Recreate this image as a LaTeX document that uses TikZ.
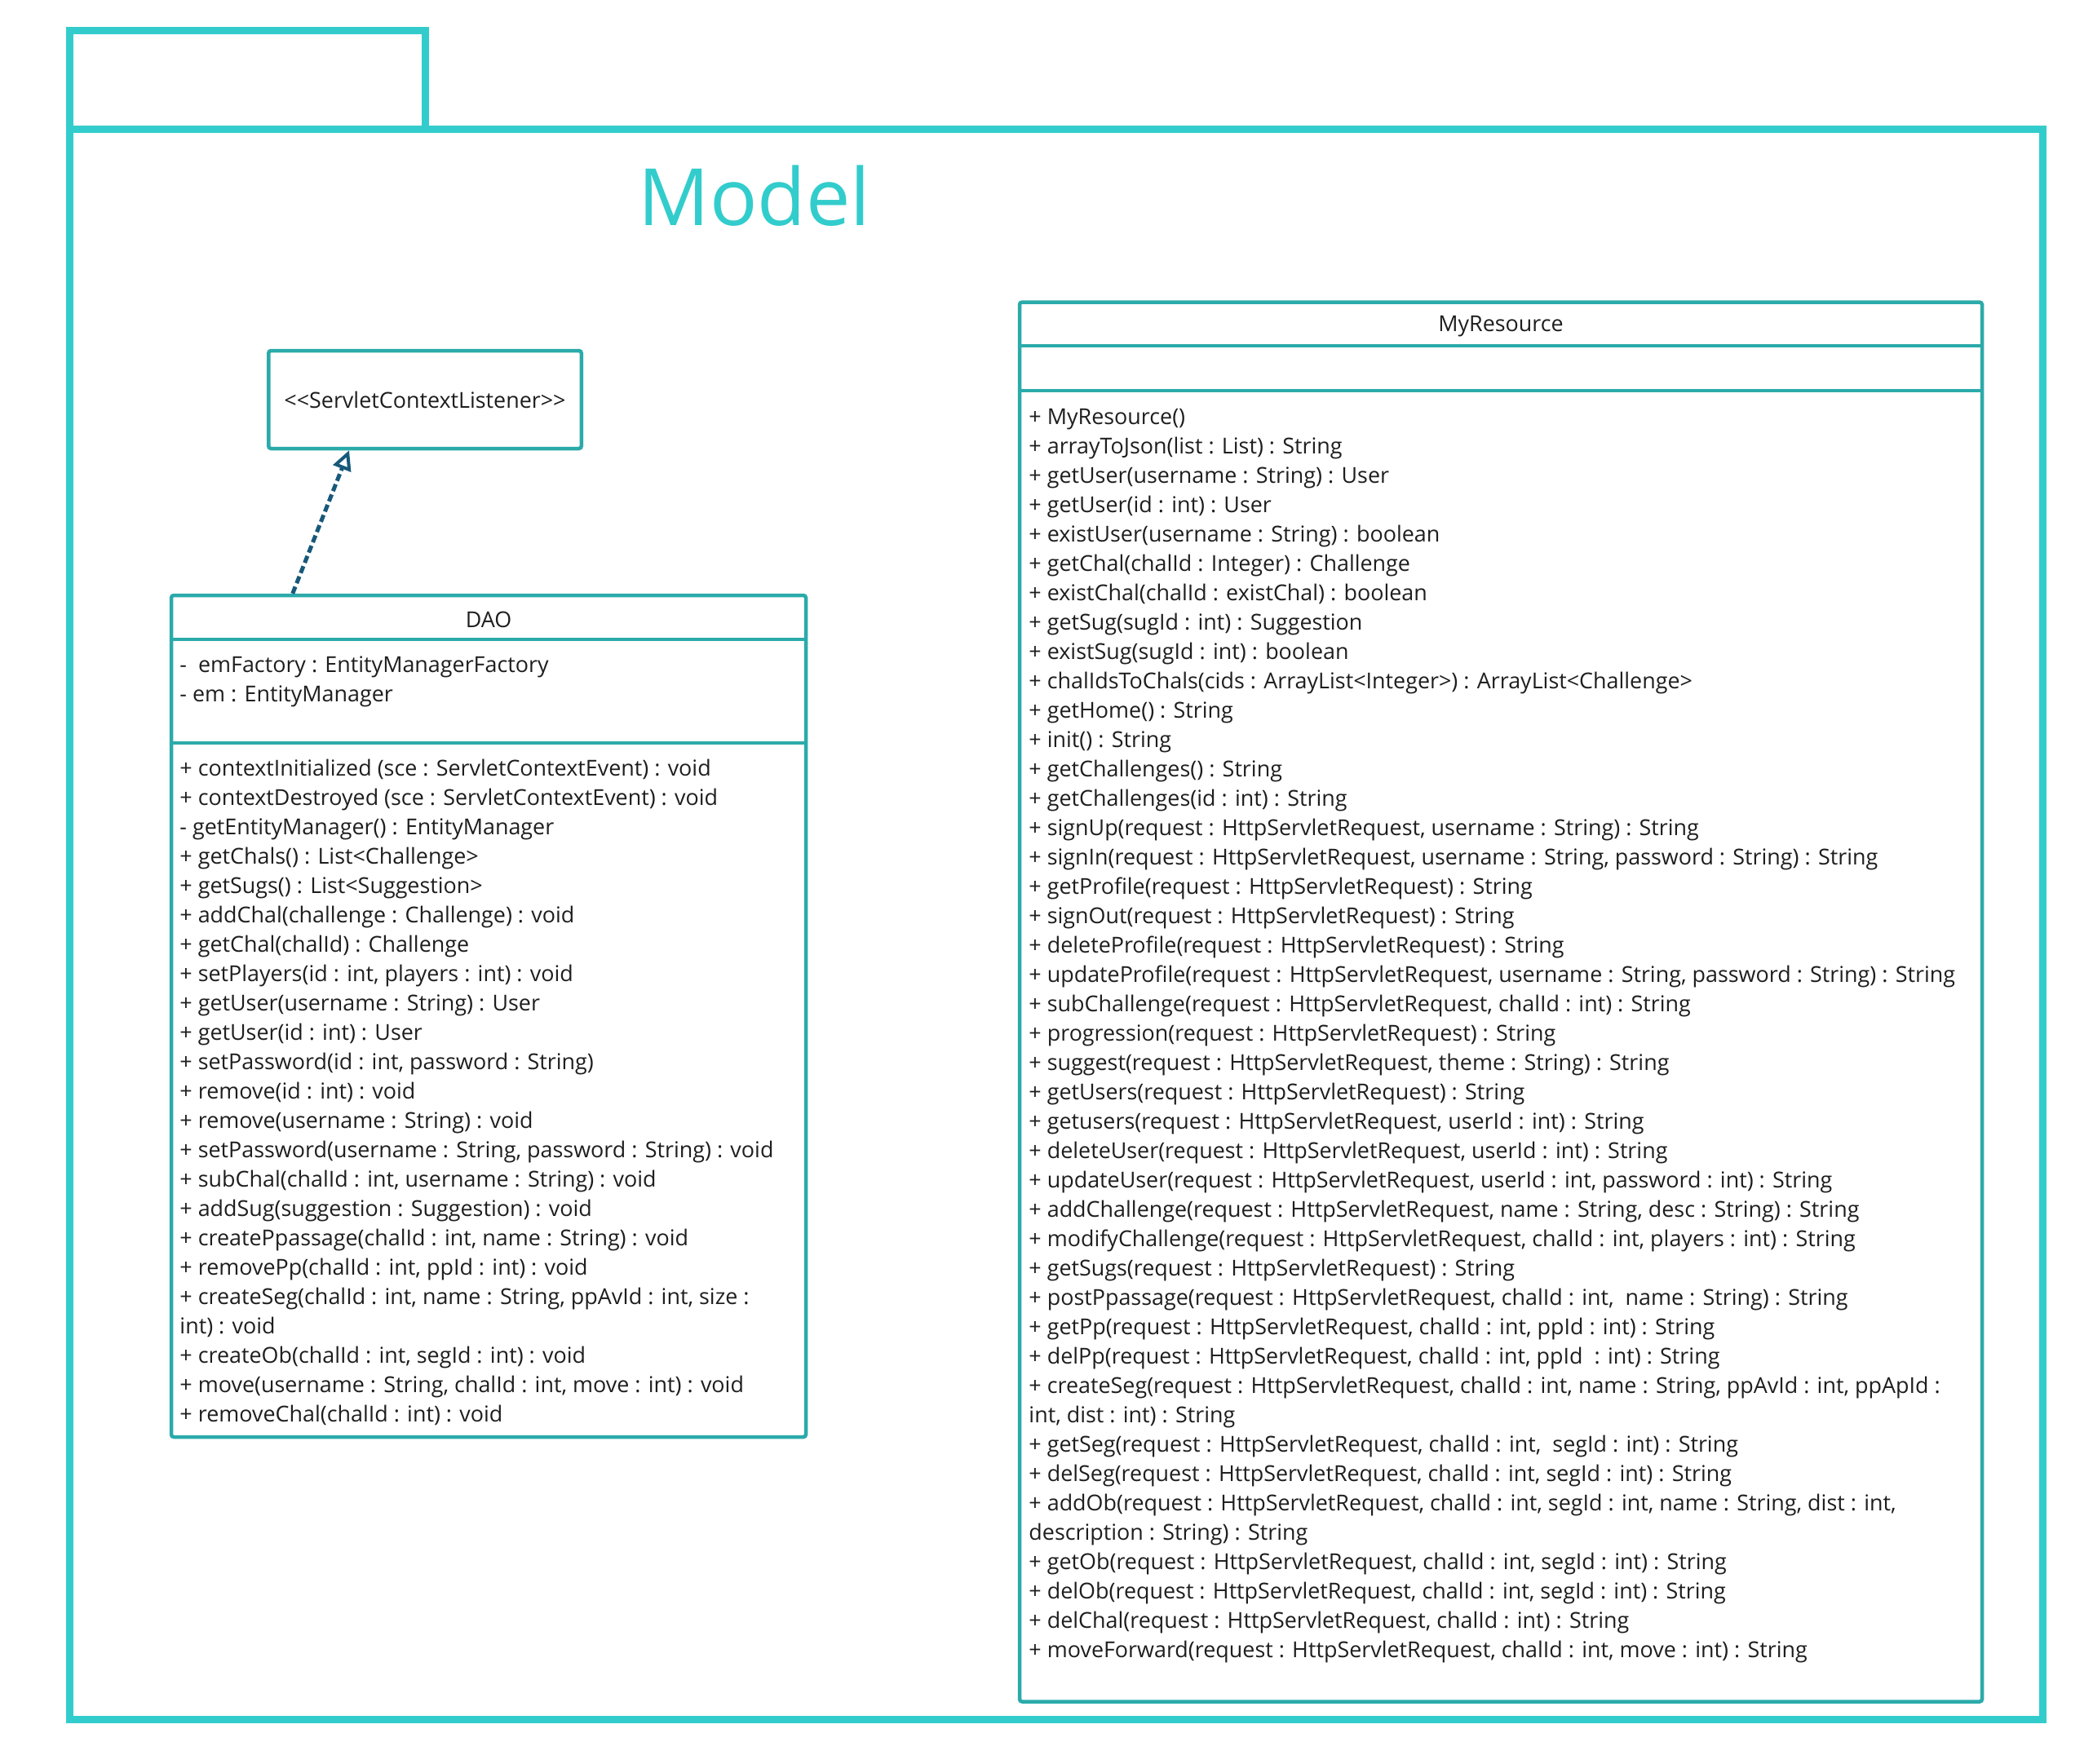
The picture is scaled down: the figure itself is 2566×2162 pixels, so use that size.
\documentclass[tikz,border=0pt]{standalone}
\usepackage{fontspec}
\setmainfont{Open Sans}
\usetikzlibrary{arrows.meta,calc}

\definecolor{pkgteal}{HTML}{33CCCC}
\definecolor{boxteal}{HTML}{2BAAAA}
\definecolor{linkblue}{HTML}{17597A}
\definecolor{textgray}{HTML}{1E1E1E}

\newcommand{\umlfont}{\fontsize{7.65pt}{3.6mm}\selectfont}
\newcommand{\pkgfont}{\fontsize{27.6pt}{32pt}\selectfont}

\begin{document}
\begin{tikzpicture}[
    x=0.1mm, y=-0.1mm,
    % Styles
    pkgline/.style={% For the package frame and its tab
        rectangle,
        draw=pkgteal,
        line width=0.9mm,
        inner sep=0pt,
        },
    pkgtitle/.style={% For the package name
        text=pkgteal,
        font=\pkgfont,
        inner sep=0pt,
        },
    classbox/.style={% For the class boxes
        rectangle,
        rounded corners=0.3mm,
        draw=boxteal,
        line width=0.45mm,
        inner sep=0pt,
        text=textgray,
        font=\umlfont,
        },
    classline/.style={% For the lines between the compartments
        draw=boxteal,
        line width=0.45mm,
        },
    classname/.style={% For the class names
        text=textgray,
        font=\umlfont,
        inner sep=0pt,
        },
    members/.style={% For attributes and operations
        anchor=north west,
        align=left,
        inner sep=0pt,
        text=textgray,
        font=\umlfont,
        },
    realize/.style={% Dashed arrow with open triangle
        draw=linkblue,
        line width=0.5mm,
        dash pattern=on 0.9mm off 0.45mm,
        -{Triangle[open, length=2.4mm, width=2.3mm, line width=0.4mm]},
        },
    ]
    \useasboundingbox (0,0) rectangle (2566,2162);

    % Draw the package:
    \node [pkgline, minimum width=43.6mm, minimum height=12.1mm] (pkgtab) at (303,98) {};
    \node [pkgline, minimum width=241.9mm, minimum height=194.95mm] (pkgbody) at (1294.5,1133.25) {};
    \node [pkgtitle, anchor=base] (pkgname) at (925,276) {Model};

    % Interface
    \node [classbox, minimum width=38.35mm, minimum height=12mm] (servlet) at (521,490) {{<}{<}ServletContextListener{>}{>}};

    % DAO class
    \node [classbox, minimum width=77.8mm, minimum height=103.2mm] (dao) at (599,1246) {};
    \coordinate (daosep1) at ($(dao.north west)+(0,56)$);
    \coordinate (daosep2) at ($(dao.north west)+(0,183)$);
    \draw [classline] (daosep1) -- (daosep1 -| dao.east);
    \draw [classline] (daosep2) -- (daosep2 -| dao.east);
    \node [classname] (daoname) at ($(dao.north)+(0,32)$) {DAO};
    \node [members] (daoattrs) at ($(daosep1)+(12,20)$) {%
        -\ \ emFactory : EntityManagerFactory\\
        - em : EntityManager};
    \node [members] (daoops) at ($(daosep2)+(12,20)$) {%
        + contextInitialized (sce : ServletContextEvent) : void\\
        + contextDestroyed (sce : ServletContextEvent) : void\\
        - getEntityManager() : EntityManager\\
        + getChals() : List<Challenge>\\
        + getSugs() : List<Suggestion>\\
        + addChal(challenge : Challenge) : void\\
        + getChal(chalId) : Challenge\\
        + setPlayers(id : int, players : int) : void\\
        + getUser(username : String) : User\\
        + getUser(id : int) : User\\
        + setPassword(id : int, password : String)\\
        + remove(id : int) : void\\
        + remove(username : String) : void\\
        + setPassword(username : String, password : String) : void\\
        + subChal(chalId : int, username : String) : void\\
        + addSug(suggestion : Suggestion) : void\\
        + createPpassage(chalId : int, name : String) : void\\
        + removePp(chalId : int, ppId : int) : void\\
        + createSeg(chalId : int, name : String, ppAvId : int, size :\\
        int) : void\\
        + createOb(chalId : int, segId : int) : void\\
        + move(username : String, chalId : int, move : int) : void\\
        + removeChal(chalId : int) : void};

    % MyResource class
    \node [classbox, minimum width=118mm, minimum height=171.6mm] (res) at (1840,1228.5) {};
    \coordinate (ressep1) at ($(res.north west)+(0,55.5)$);
    \coordinate (ressep2) at ($(res.north west)+(0,110.5)$);
    \draw [classline] (ressep1) -- (ressep1 -| res.east);
    \draw [classline] (ressep2) -- (ressep2 -| res.east);
    \node [classname] (resname) at ($(res.north)+(0,32)$) {MyResource};
    \node [members] (resops) at ($(ressep2)+(13,22)$) {%
        + MyResource()\\
        + arrayToJson(list : List) : String\\
        + getUser(username : String) : User\\
        + getUser(id : int) : User\\
        + existUser(username : String) : boolean\\
        + getChal(chalId : Integer) : Challenge\\
        + existChal(chalId : existChal) : boolean\\
        + getSug(sugId : int) : Suggestion\\
        + existSug(sugId : int) : boolean\\
        + chalIdsToChals(cids : ArrayList<Integer>) : ArrayList<Challenge>\\
        + getHome() : String\\
        + init() : String\\
        + getChallenges() : String\\
        + getChallenges(id : int) : String\\
        + signUp(request : HttpServletRequest, username : String) : String\\
        + signIn(request : HttpServletRequest, username : String, password : String) : String\\
        + getProfile(request : HttpServletRequest) : String\\
        + signOut(request : HttpServletRequest) : String\\
        + deleteProfile(request : HttpServletRequest) : String\\
        + updateProfile(request : HttpServletRequest, username : String, password : String) : String\\
        + subChallenge(request : HttpServletRequest, chalId : int) : String\\
        + progression(request : HttpServletRequest) : String\\
        + suggest(request : HttpServletRequest, theme : String) : String\\
        + getUsers(request : HttpServletRequest) : String\\
        + getusers(request : HttpServletRequest, userId : int) : String\\
        + deleteUser(request : HttpServletRequest, userId : int) : String\\
        + updateUser(request : HttpServletRequest, userId : int, password : int) : String\\
        + addChallenge(request : HttpServletRequest, name : String, desc : String) : String\\
        + modifyChallenge(request : HttpServletRequest, chalId : int, players : int) : String\\
        + getSugs(request : HttpServletRequest) : String\\
        + postPpassage(request : HttpServletRequest, chalId : int,\ \ name : String) : String\\
        + getPp(request : HttpServletRequest, chalId : int, ppId : int) : String\\
        + delPp(request : HttpServletRequest, chalId : int, ppId\ \ : int) : String\\
        + createSeg(request : HttpServletRequest, chalId : int, name : String, ppAvId : int, ppApId :\\
        int, dist : int) : String\\
        + getSeg(request : HttpServletRequest, chalId : int,\ \ segId : int) : String\\
        + delSeg(request : HttpServletRequest, chalId : int, segId : int) : String\\
        + addOb(request : HttpServletRequest, chalId : int, segId : int, name : String, dist : int,\\
        description : String) : String\\
        + getOb(request : HttpServletRequest, chalId : int, segId : int) : String\\
        + delOb(request : HttpServletRequest, chalId : int, segId : int) : String\\
        + delChal(request : HttpServletRequest, chalId : int) : String\\
        + moveForward(request : HttpServletRequest, chalId : int, move : int) : String};

    % Draw Arrows
    \draw [realize] ($(dao.north west)+(151,0)$) -- ($(servlet.south west)+(101,0)$);

\end{tikzpicture}
\end{document}
